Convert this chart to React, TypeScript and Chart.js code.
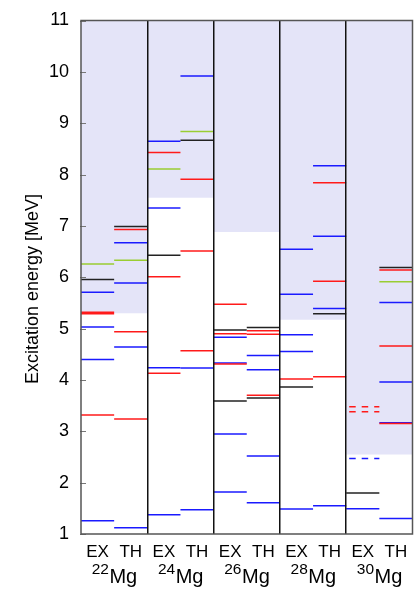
import React, { useEffect, useRef } from 'react';
import { Chart, registerables } from 'chart.js';

Chart.register(...registerables);

// ---- data ----
const isotopes = ['22', '24', '26', '28', '30'];
const columnLabels = ['EX', 'TH'];
const yTicks = [1, 2, 3, 4, 5, 6, 7, 8, 9, 10, 11];
const thresholds = [5.3, 7.55, 6.88, 5.17, 2.55];
const yTitle = 'Excitation energy [MeV]';

// levels: [energy (MeV), colour key]
const ex22: [number, string][] = [[1.26, 'b'], [3.315, 'r'], [4.4, 'b'], [5.03, 'b'], [5.29, 'r'], [5.32, 'r'], [5.71, 'b'], [5.955, 'k'], [6.26, 'g']];
const th22: [number, string][] = [[1.12, 'b'], [3.24, 'r'], [4.64, 'b'], [4.94, 'r'], [5.89, 'b'], [6.33, 'g'], [6.67, 'b'], [6.93, 'r'], [6.99, 'k']];
const ex24: [number, string][] = [[1.375, 'b'], [4.13, 'r'], [4.24, 'b'], [6.01, 'r'], [6.43, 'k'], [7.35, 'b'], [8.11, 'g'], [8.43, 'r'], [8.65, 'b']];
const th24: [number, string][] = [[1.47, 'b'], [4.235, 'b'], [4.57, 'r'], [6.51, 'r'], [7.91, 'r'], [8.67, 'k'], [8.84, 'g'], [9.92, 'b']];
const ex26: [number, string][] = [[1.82, 'b'], [2.945, 'b'], [3.59, 'k'], [4.31, 'r'], [4.33, 'b'], [4.83, 'b'], [4.9, 'r'], [4.975, 'k'], [5.475, 'r']];
const th26: [number, string][] = [[1.61, 'b'], [2.52, 'b'], [3.65, 'k'], [3.7, 'r'], [4.2, 'b'], [4.475, 'b'], [4.89, 'r'], [4.96, 'r'], [5.02, 'k']];
const ex28: [number, string][] = [[1.486, 'b'], [3.865, 'k'], [4.02, 'r'], [4.555, 'b'], [4.88, 'b'], [5.67, 'b'], [6.545, 'b']];
const th28: [number, string][] = [[1.55, 'b'], [4.06, 'r'], [5.29, 'k'], [5.39, 'b'], [5.92, 'r'], [6.8, 'b'], [7.84, 'r'], [8.17, 'b']];
const ex30: [number, string][] = [[1.49, 'b'], [1.8, 'k']];
const th30: [number, string][] = [[1.3, 'b'], [3.15, 'r'], [3.165, 'b'], [3.96, 'b'], [4.66, 'r'], [5.51, 'b'], [5.91, 'g'], [6.14, 'r'], [6.19, 'k']];
// tentative (dashed) levels in 30Mg EX
const ex30Dashed: [number, string][] = [[2.47, 'b'], [3.38, 'r'], [3.477, 'r']];

const columns = [ex22, th22, ex24, th24, ex26, th26, ex28, th28, ex30, th30];
const dashedColumn = 8;

const colours: Record<string, string> = {
  b: '#1a1aff',
  r: '#ff1a1a',
  g: '#9acd32',
  k: '#222222',
};
const shadeColour = 'rgb(228,228,248)';
const FONT = '"Liberation Sans", Arial, sans-serif';

export default function App() {
  const ref = useRef<HTMLCanvasElement>(null);

  useEffect(() => {
    document.body.style.margin = '0';
    const canvas = ref.current;
    if (!canvas) return;

    const datasets: any[] = [];
    columns.forEach((levels, c) => {
      levels.forEach(([e, k]) => {
        datasets.push({
          data: [{ x: c, y: e }, { x: c + 1, y: e }],
          borderColor: colours[k],
          borderWidth: 1.5,
          pointRadius: 0,
          fill: false,
        });
      });
    });
    ex30Dashed.forEach(([e, k]) => {
      datasets.push({
        data: [{ x: dashedColumn, y: e }, { x: dashedColumn + 1, y: e }],
        borderColor: colours[k],
        borderWidth: 1.5,
        borderDash: [6.5, 6],
        borderDashOffset: 9.5,
        pointRadius: 0,
        fill: false,
      });
    });
    // shaded regions (pushed last so they are drawn underneath)
    thresholds.forEach((t, p) => {
      datasets.push({
        data: [{ x: 2 * p, y: 11 }, { x: 2 * p + 2, y: 11 }],
        fill: { value: t },
        backgroundColor: shadeColour,
        borderWidth: 0,
        borderColor: 'rgba(0,0,0,0)',
        pointRadius: 0,
      });
    });

    const decor = {
      id: 'decor',
      afterDraw(chart: any) {
        const { ctx, chartArea } = chart;
        const { left, right, top, bottom } = chartArea;
        const x = chart.scales.x;
        const y = chart.scales.y;
        ctx.save();
        // inward ticks
        ctx.strokeStyle = '#777';
        ctx.lineWidth = 1;
        yTicks.forEach((v) => {
          const py = Math.round(y.getPixelForValue(v)) + 0.5;
          ctx.beginPath();
          ctx.moveTo(left - 1, py);
          ctx.lineTo(left + 5, py);
          ctx.stroke();
        });
        // frame
        ctx.strokeStyle = '#555';
        ctx.lineWidth = 1.5;
        ctx.strokeRect(left, top, right - left, bottom - top);
        // column labels
        ctx.fillStyle = '#000';
        ctx.textAlign = 'center';
        ctx.textBaseline = 'alphabetic';
        ctx.font = '17px ' + FONT;
        for (let c = 0; c < columns.length; c++) {
          ctx.fillText(columnLabels[c % 2], x.getPixelForValue(c + 0.5), bottom + 23);
        }
        // isotope labels with superscript mass number
        isotopes.forEach((a, p) => {
          const cx = x.getPixelForValue(2 * p + 1);
          ctx.font = '15.5px ' + FONT;
          const wa = ctx.measureText(a).width;
          ctx.font = '20px ' + FONT;
          const wm = ctx.measureText('Mg').width;
          const x0 = cx - (wa + wm) / 2;
          ctx.textAlign = 'left';
          ctx.font = '15.5px ' + FONT;
          ctx.fillText(a, x0, bottom + 40);
          ctx.font = '20px ' + FONT;
          ctx.fillText('Mg', x0 + wa + 0.5, bottom + 49);
        });
        // y title
        ctx.translate(33, 289);
        ctx.rotate(-Math.PI / 2);
        ctx.textAlign = 'center';
        ctx.textBaseline = 'middle';
        ctx.font = '18px ' + FONT;
        ctx.fillText(yTitle, 0, 0);
        ctx.restore();
      },
    };

    const chart = new Chart(canvas, {
      type: 'line',
      data: { datasets },
      options: {
        animation: false,
        responsive: false,
        events: [],
        layout: { padding: { top: 20.5, right: 2.5, bottom: 59, left: 0 } },
        plugins: {
          legend: { display: false },
          tooltip: { enabled: false },
          filler: { drawTime: 'beforeDatasetsDraw' },
        },
        scales: {
          x: {
            type: 'linear',
            min: 0,
            max: 10,
            z: 1,
            afterBuildTicks: (scale: any) => {
              scale.ticks = [0, 1, 2, 3, 4, 5, 6, 7, 8, 9, 10].map((v) => ({ value: v }));
            },
            afterFit: (scale: any) => {
              scale.height = 0;
            },
            ticks: { display: false },
            border: { display: false },
            grid: {
              z: 1,
              drawTicks: false,
              lineWidth: 1.5,
              color: (ctx: any) => {
                const v = ctx.tick ? ctx.tick.value : -1;
                return v > 0 && v < 10 && v % 2 === 0 ? '#111' : 'rgba(0,0,0,0)';
              },
            },
          },
          y: {
            type: 'linear',
            min: 1,
            max: 11,
            afterBuildTicks: (scale: any) => {
              scale.ticks = yTicks.map((v) => ({ value: v }));
            },
            afterFit: (scale: any) => {
              scale.width = 81;
            },
            ticks: {
              padding: 4,
              color: '#000',
              font: { family: FONT, size: 18 },
            },
            border: { display: false },
            grid: { display: false },
          },
        },
      },
      plugins: [decor],
    });

    return () => chart.destroy();
  }, []);

  return (
    <div style={{ position: 'absolute', left: 0, top: 0, width: 415, height: 593 }}>
      <canvas ref={ref} width={415} height={593} />
    </div>
  );
}
